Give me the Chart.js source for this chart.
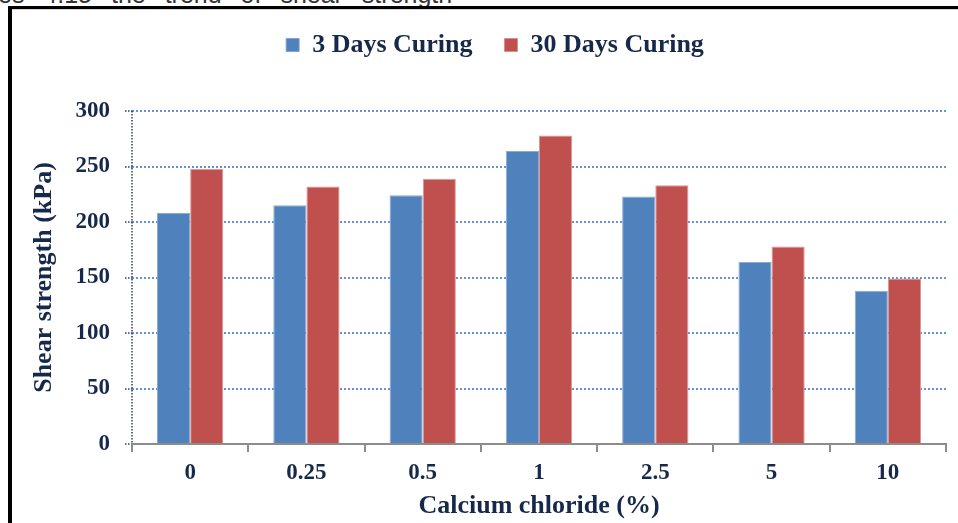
<!DOCTYPE html>
<html><head><meta charset="utf-8">
<script src="https://cdn.jsdelivr.net/npm/chart.js@4/dist/chart.umd.min.js"></script>
<style>
html,body{margin:0;padding:0;background:#fff;overflow:hidden;width:958px;height:523px;}
#caption{position:absolute;left:-2px;top:-18px;font:25px/1 "Liberation Sans",sans-serif;color:#333;white-space:nowrap;word-spacing:12px;}
#frame{position:absolute;left:8px;top:6px;width:2000px;height:2000px;border-left:4px solid #000;border-top:3px solid #000;box-shadow:inset 0 1px 0 #d4d4d4;}
#c{position:absolute;left:0;top:0;}
</style></head>
<body>
<div id="caption">es 4.15 the trend of shear strength</div>
<div id="frame"></div>
<canvas id="c" width="958" height="523"></canvas>
<script>
// Shear strength against calcium chloride content, two curing periods
const categories = ['0', '0.25', '0.5', '1', '2.5', '5', '10'];
const curing3Days = [208, 215, 224, 264, 223, 164, 138];
const curing30Days = [248, 232, 239, 278, 233, 178, 149];
const seriesNames = ['3 Days Curing', '30 Days Curing'];
const yTicks = [0, 50, 100, 150, 200, 250, 300];

const textColor = '#16294A';
const axisNavy = '#2B3F66';
const serif = '"Liberation Serif", "Times New Roman", serif';

// fixes the legend band height so the plot starts below it
const legendBand = {
  id: 'legendBand',
  beforeInit(chart) {
    const fit = chart.legend.fit;
    chart.legend.fit = function () { fit.call(this); this.height = 111; };
  }
};

// dotted value axis line on the left of the plot
const dottedValueAxis = {
  id: 'dottedValueAxis',
  afterDatasetsDraw(chart) {
    const { ctx, chartArea } = chart;
    ctx.save();
    ctx.strokeStyle = axisNavy;
    ctx.lineWidth = 1.5;
    ctx.setLineDash([1.5, 1.5]);
    ctx.beginPath();
    ctx.moveTo(chartArea.left, chartArea.top);
    ctx.lineTo(chartArea.left, chartArea.bottom);
    ctx.stroke();
    ctx.restore();
  }
};

new Chart(document.getElementById('c'), {
  type: 'bar',
  data: {
    labels: categories,
    datasets: [
      { label: seriesNames[0], data: curing3Days, backgroundColor: '#4F81BD', borderColor: 'rgba(125,162,210,0.9)', borderWidth: 1 },
      { label: seriesNames[1], data: curing30Days, backgroundColor: '#C0504D', borderColor: 'rgba(215,140,138,0.9)', borderWidth: 1 }
    ]
  },
  options: {
    responsive: false,
    animation: false,
    devicePixelRatio: 1,
    categoryPercentage: 0.57,
    barPercentage: 1.0,
    layout: { padding: { left: 44, right: 12, top: 0, bottom: 0 } },
    plugins: {
      tooltip: { enabled: false },
      legend: {
        position: 'top',
        labels: {
          boxWidth: 13, boxHeight: 13, padding: 32,
          color: textColor,
          font: { family: serif, size: 26, weight: 'bold' }
        }
      }
    },
    scales: {
      x: {
        afterFit(scale) { scale.height = 79; },
        grid: { drawOnChartArea: false, drawTicks: true, tickLength: 8, color: '#8C8C8C', lineWidth: 2, offset: true },
        border: { color: '#8C8C8C', width: 2 },
        ticks: { color: textColor, padding: 7, font: { family: serif, size: 23, weight: 'bold' } },
        title: {
          display: true, text: 'Calcium chloride (%)', color: textColor,
          padding: { top: 0, bottom: 1 },
          font: { family: serif, size: 26, weight: 'bold' }
        }
      },
      y: {
        min: 0, max: 300,
        afterFit(scale) { scale.width = 88; },
        afterBuildTicks(scale) { scale.ticks = yTicks.map(v => ({ value: v })); },
        grid: {
          color: ctx => (ctx.tick && ctx.tick.value === 0) ? 'rgba(0,0,0,0)' : '#6693D4',
          lineWidth: 2,
          tickLength: 7,
          tickColor: axisNavy,
          tickWidth: 1.5,
          tickBorderDash: [1.5, 1.5]
        },
        border: { display: false, dash: [2, 2] },
        ticks: { color: textColor, padding: 15, font: { family: serif, size: 23, weight: 'bold' } },
        title: {
          display: true, text: 'Shear strength (kPa)', color: textColor,
          padding: { top: -15, bottom: 0 },
          font: { family: serif, size: 26, weight: 'bold' }
        }
      }
    }
  },
  plugins: [legendBand, dottedValueAxis]
});
</script>
</body></html>
